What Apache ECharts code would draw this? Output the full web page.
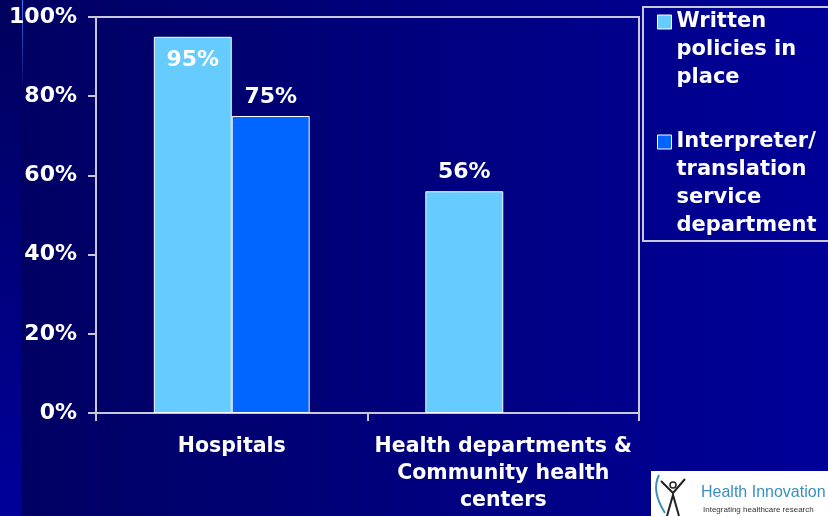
<!DOCTYPE html>
<html>
<head>
<meta charset="utf-8">
<script src="https://cdn.jsdelivr.net/npm/echarts@6/dist/echarts.min.js"></script>
<style>
  html, body { margin: 0; padding: 0; }
  #chart { width: 828px; height: 516px; }
</style>
</head>
<body>
<div id="chart"></div>
<script>
  // data
  var categories = ['Hospitals', 'Health departments &\nCommunity health\ncenters'];
  var seriesNames = ['Written\npolicies in\nplace', 'Interpreter/\ntranslation\nservice\ndepartment'];
  var writtenPolicies = [95, 56];
  var interpreterService = [75, null];
  var yTicks = [0, 20, 40, 60, 80, 100];

  var FONT = 'DejaVu Sans';
  var chart = echarts.init(document.getElementById('chart'));

  function barLabel(v) {
    // the tallest bar carries its label inside, the others above
    return v > 90
      ? { show: true, position: 'insideTop', distance: 12 }
      : { show: true, position: 'top', distance: 8 };
  }

  // legend text is centred on its icon; pad with empty lines on top so the
  // icon lines up with the first line of text, as on the slide
  function legendText(name) {
    var n = name.split('\n').length;
    return new Array(n).join('\n') + name;
  }

  var option = {
    backgroundColor: {
      type: 'linear', x: 0, y: 0, x2: 1, y2: 0,
      colorStops: [{ offset: 0, color: '#000062' }, { offset: 1, color: '#000099' }]
    },
    textStyle: { fontFamily: FONT },
    grid: {
      left: 96, right: 189, top: 17, bottom: 103,
      show: true, borderColor: '#c8c8d8', borderWidth: 2
    },
    legend: {
      orient: 'vertical',
      left: 657, top: -48,
      padding: 0,
      itemGap: -48,
      itemWidth: 14, itemHeight: 14,
      icon: 'rect',
      itemStyle: { borderColor: '#ffffff', borderWidth: 1 },
      formatter: legendText,
      textStyle: { color: '#ffffff', fontSize: 21, fontWeight: 'bold', lineHeight: 28, fontFamily: FONT },
      data: seriesNames
    },
    xAxis: {
      type: 'category',
      data: categories,
      axisLine: { lineStyle: { color: '#c8c8d8', width: 2 } },
      axisTick: { show: true, length: 8, lineStyle: { color: '#c8c8d8', width: 2 } },
      axisLabel: {
        interval: 0, margin: 20,
        color: '#ffffff', fontSize: 20.5, fontWeight: 'bold', lineHeight: 27, fontFamily: FONT
      }
    },
    yAxis: {
      type: 'value',
      min: 0, max: 100, interval: 20,
      splitLine: { show: false },
      axisLine: { show: true, lineStyle: { color: '#c8c8d8', width: 2 } },
      axisTick: { show: true, length: 8, lineStyle: { color: '#c8c8d8', width: 2 } },
      axisLabel: {
        margin: 19, formatter: '{value}%',
        color: '#ffffff', fontSize: 22, fontWeight: 'bold', fontFamily: FONT
      }
    },
    series: [
      {
        name: seriesNames[0],
        type: 'bar',
        barGap: 0,
        barCategoryGap: '42.6%',
        itemStyle: { color: '#66ccff', borderColor: '#ffffff', borderWidth: 1 },
        label: { color: '#ffffff', fontSize: 22, fontWeight: 'bold', fontFamily: FONT, formatter: '{c}%' },
        data: writtenPolicies.map(function (v) { return { value: v, label: barLabel(v) }; })
      },
      {
        name: seriesNames[1],
        type: 'bar',
        itemStyle: { color: '#0066ff', borderColor: '#ffffff', borderWidth: 1 },
        label: { color: '#ffffff', fontSize: 22, fontWeight: 'bold', fontFamily: FONT, formatter: '{c}%' },
        data: interpreterService.map(function (v) { return v == null ? null : { value: v, label: barLabel(v) }; })
      }
    ],
    graphic: [
      // lighter strip on the left edge of the slide
      {
        type: 'rect', z: -10, silent: true,
        shape: { x: 0, y: 0, width: 22, height: 516 },
        style: {
          fill: {
            type: 'linear', x: 0, y: 0, x2: 0, y2: 1,
            colorStops: [{ offset: 0, color: '#00005c' }, { offset: 1, color: '#00009a' }]
          }
        }
      },
      {
        type: 'rect', z: -9, silent: true,
        shape: { x: 22, y: 0, width: 1, height: 90 },
        style: {
          fill: {
            type: 'linear', x: 0, y: 0, x2: 0, y2: 1,
            colorStops: [{ offset: 0, color: '#3a7cff' }, { offset: 1, color: 'rgba(58,124,255,0)' }]
          }
        }
      },
      // legend frame
      {
        type: 'rect', silent: true,
        shape: { x: 643, y: 7, width: 200, height: 234 },
        style: { fill: 'none', stroke: '#c8c8d8', lineWidth: 2 }
      },
      // logo box in the corner
      {
        type: 'group', left: 651, top: 471, silent: true,
        children: [
          { type: 'rect', shape: { x: 0, y: 0, width: 177, height: 45 }, style: { fill: '#ffffff' } },
          { type: 'circle', shape: { cx: 22, cy: 14, r: 3 }, style: { fill: 'none', stroke: '#222222', lineWidth: 1.5 } },
          { type: 'polyline', shape: { points: [[10, 10], [22, 22], [34, 8]] }, style: { stroke: '#222222', lineWidth: 2, fill: 'none' } },
          { type: 'polyline', shape: { points: [[16, 45], [22, 24], [28, 45]] }, style: { stroke: '#222222', lineWidth: 2, fill: 'none' } },
          { type: 'bezierCurve', shape: { x1: 8, y1: 4, x2: 14, y2: 42, cpx1: 0, cpy1: 20 }, style: { stroke: '#3d8fb8', lineWidth: 2, fill: 'none' } },
          { type: 'text', x: 50, y: 30, style: { text: 'Health Innovation I', fill: '#3a8fc0', font: '16px Liberation Sans', textVerticalAlign: 'bottom' } },
          { type: 'text', x: 52, y: 39, style: { text: 'Integrating healthcare research', fill: '#333333', font: '8px Liberation Sans', textVerticalAlign: 'middle' } }
        ]
      }
    ]
  };

  chart.setOption(option);
  window.addEventListener('resize', function () { chart.resize(); });
</script>
</body>
</html>
